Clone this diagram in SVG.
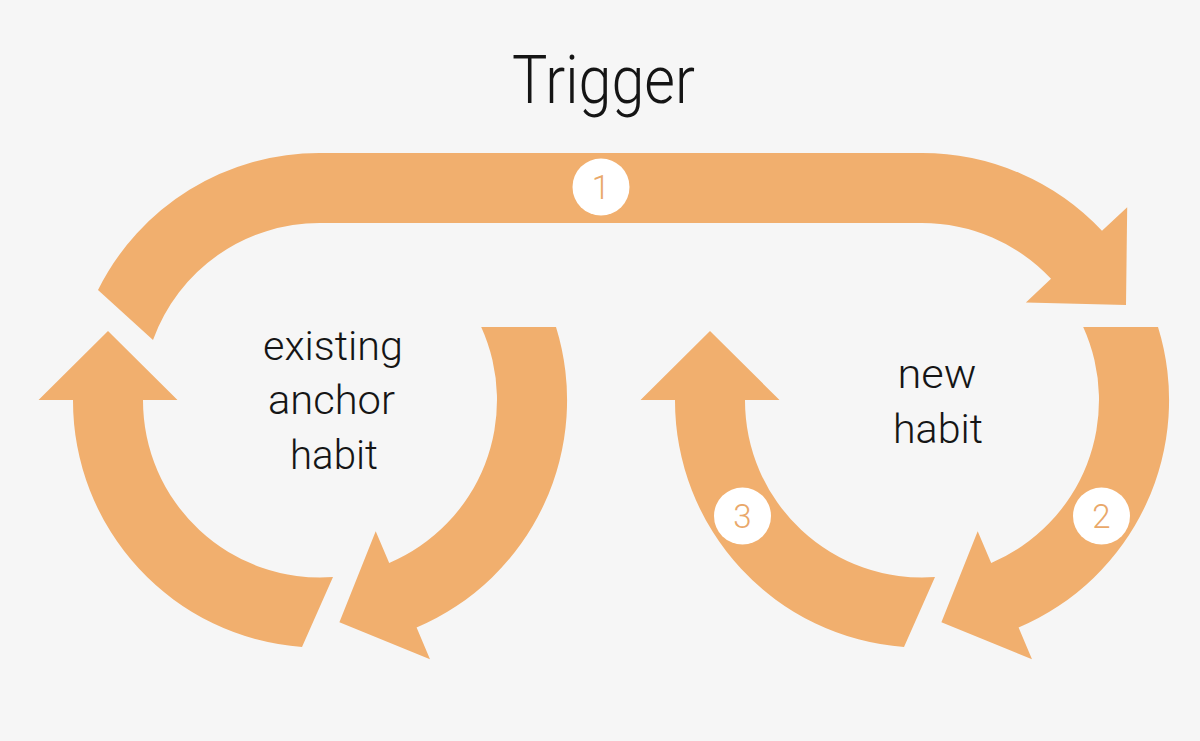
<svg xmlns="http://www.w3.org/2000/svg" width="1200" height="741" viewBox="0 0 1200 741">
  <style>
    .arrow { fill: #F1AF6E; }
    .label { font-family: Roboto, "Liberation Sans", sans-serif; font-weight: 300; fill: #151515; text-anchor: middle; }
    .badge circle { fill: #FFFFFF; }
    .badge text { font-family: Roboto, "Liberation Sans", sans-serif; font-weight: 300; font-size: 33px; fill: #E9A86A; text-anchor: middle; }
  </style>
  <rect x="0" y="0" width="1200" height="741" fill="#F6F6F6"/>

  <g id="connectors">
    <path id="arrow-trigger" class="arrow" d="M 98,290 A 247 247 0 0 1 320,153 L 922,153 A 247 247 0 0 1 1102,230.8 L 1127.2,207.2 L 1126,305 L 1025.9,302.4 L 1051,278.8 A 177 177 0 0 0 922,223 L 320,223 A 177 177 0 0 0 153,340 Z"/>
    <path id="arrow-anchor-up" class="arrow" d="M 302,647 A 247 247 0 0 1 73,400 L 38.5,400 L 108,331 L 177.5,400 L 143,400 A 177 177 0 0 0 333,577 Z"/>
    <path id="arrow-anchor-down" class="arrow" d="M 481.2,327 L 556,327 A 247 247 0 0 1 416.6,627.5 L 430,659.2 L 339.4,622.2 L 375.7,531.2 L 389.2,563 A 177 177 0 0 0 481.2,327 Z"/>
    <path id="arrow-new-up" class="arrow" d="M 904,647 A 247 247 0 0 1 675,400 L 640.5,400 L 710,331 L 779.5,400 L 745,400 A 177 177 0 0 0 935,577 Z"/>
    <path id="arrow-new-down" class="arrow" d="M 1083.2,327 L 1158,327 A 247 247 0 0 1 1018.6,627.5 L 1032,659.2 L 941.4,622.2 L 977.7,531.2 L 991.2,563 A 177 177 0 0 0 1083.2,327 Z"/>
  </g>

  <g id="trigger">
    <text class="label" x="603.5" y="103" font-size="66" textLength="183" lengthAdjust="spacingAndGlyphs">Trigger</text>
  </g>

  <g id="existing-anchor-habit">
    <text class="label" x="333" y="360" font-size="40" textLength="140" lengthAdjust="spacingAndGlyphs">existing</text>
    <text class="label" x="331.5" y="414" font-size="40" textLength="127" lengthAdjust="spacingAndGlyphs">anchor</text>
    <text class="label" x="334" y="469" font-size="40" textLength="88" lengthAdjust="spacingAndGlyphs">habit</text>
  </g>

  <g id="new-habit">
    <text class="label" x="937" y="388" font-size="40" textLength="79" lengthAdjust="spacingAndGlyphs">new</text>
    <text class="label" x="938" y="443" font-size="40" textLength="90" lengthAdjust="spacingAndGlyphs">habit</text>
  </g>

  <g id="badge-1" class="badge">
    <circle cx="601" cy="187" r="28.5"/>
    <text x="601" y="199">1</text>
  </g>
  <g id="badge-2" class="badge">
    <circle cx="1101.5" cy="516" r="28.5"/>
    <text x="1101.5" y="528">2</text>
  </g>
  <g id="badge-3" class="badge">
    <circle cx="742.5" cy="516" r="28.5"/>
    <text x="742.5" y="528">3</text>
  </g>
</svg>
